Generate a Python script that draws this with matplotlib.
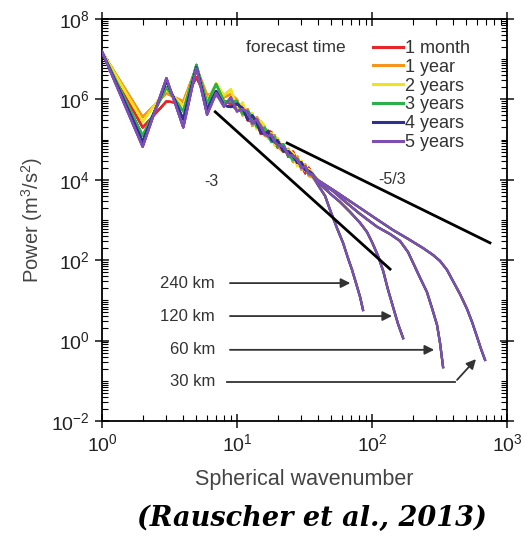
import numpy as np
import matplotlib
matplotlib.use("Agg")
import matplotlib.pyplot as plt
from matplotlib.lines import Line2D
from matplotlib.ticker import LogLocator, FixedLocator, NullFormatter

plt.rcParams['font.family'] = ['Liberation Sans', 'DejaVu Sans']
plt.rcParams['mathtext.fontset'] = 'custom'
plt.rcParams['mathtext.rm'] = 'Liberation Sans'
plt.rcParams['mathtext.it'] = 'Liberation Sans:italic'

# forecast times and colours
labels = ['1 month', '1 year', '2 years', '3 years', '4 years', '5 years']
colors = ['#e8262a', '#f7941d', '#f2e21c', '#2bb04a', '#2e3192', '#7d4fb5']

# low wavenumbers, log10 power per forecast time
k_low = [1, 2, 3, 4, 5, 6, 7, 8]
low_red = [7.18, 5.30, 5.95, 5.90, 6.55, 6.00, 6.10, 5.95]
low_orange = [7.18, 5.56, 6.15, 5.95, 6.80, 6.10, 6.20, 6.05]
low_yellow = [7.18, 5.45, 6.25, 5.85, 6.75, 5.95, 6.40, 6.10]
low_green = [7.18, 5.10, 6.30, 5.70, 6.86, 5.90, 6.38, 5.95]
low_blue = [7.18, 4.95, 6.45, 5.50, 6.80, 5.75, 6.20, 5.85]
low_purple = [7.18, 4.82, 6.53, 5.30, 6.78, 5.62, 6.15, 5.82]

# noisy middle range, log10 power per forecast time
k_mid = [9, 10, 11, 12, 13, 14, 15, 16, 17, 18, 19, 20, 22, 24, 26, 28, 30, 32, 34, 36]
mid_red = [5.89, 5.73, 5.82, 5.48, 5.44, 5.46, 5.14, 5.18, 5.22, 5.18, 4.91, 4.80, 4.87, 4.57, 4.70, 4.40, 4.41, 4.16, 4.30, 4.13]
mid_orange = [6.13, 5.99, 5.60, 5.76, 5.34, 5.56, 5.40, 5.10, 5.06, 4.98, 5.11, 4.84, 4.69, 4.77, 4.44, 4.58, 4.25, 4.38, 4.10, 4.07]
mid_yellow = [6.25, 5.75, 5.92, 5.54, 5.66, 5.26, 5.46, 5.34, 5.02, 5.16, 4.85, 5.04, 4.73, 4.73, 4.66, 4.34, 4.47, 4.22, 4.26, 4.19]
mid_green = [5.95, 5.95, 5.64, 5.72, 5.54, 5.32, 5.24, 5.30, 5.10, 4.94, 5.07, 4.82, 4.89, 4.61, 4.50, 4.52, 4.31, 4.34, 4.14, 4.11]
mid_blue = [5.81, 5.89, 5.78, 5.50, 5.60, 5.42, 5.18, 5.14, 5.20, 5.00, 4.93, 4.98, 4.71, 4.71, 4.60, 4.42, 4.43, 4.24, 4.22, 4.15]
mid_purple = [6.05, 5.70, 5.76, 5.68, 5.40, 5.50, 5.33, 5.14, 5.08, 5.12, 4.94, 4.86, 4.83, 4.62, 4.60, 4.50, 4.30, 4.33, 4.16, 4.13]

# tails for each model resolution (log10 power)
k_240 = [39.8, 44.9, 48.9, 55.0, 61, 66.4, 71.1, 76.1, 81.5, 85.8]
p_240 = [3.87, 3.60, 3.25, 2.80, 2.43, 2.05, 1.76, 1.43, 1.09, 0.76]
k_120 = [39.8, 43.4, 50, 57.9, 68.7, 81.5, 91.8, 100, 111, 121, 131, 143, 156, 170]
p_120 = [3.95, 3.82, 3.63, 3.45, 3.20, 2.93, 2.70, 2.45, 2.10, 1.73, 1.28, 0.84, 0.41, 0.06]
k_60 = [39.8, 51.4, 61, 81.5, 109, 136, 161, 185, 205, 227, 255, 278, 303, 319, 336]
p_60 = [3.97, 3.72, 3.50, 3.15, 2.83, 2.65, 2.48, 2.20, 1.88, 1.56, 1.21, 0.81, 0.39, -0.06, -0.66]
k_30 = [39.8, 51.4, 63.1, 81.5, 105, 143, 185, 239, 283, 319, 359, 398, 448, 505, 551, 600, 642, 687]
p_30 = [3.99, 3.75, 3.55, 3.30, 3.05, 2.75, 2.53, 2.30, 2.13, 1.98, 1.76, 1.48, 1.16, 0.79, 0.46, 0.09, -0.21, -0.48]

# reference slopes
slope3_k = [6.9, 136]
slope3_p = [4.9e5, 60]
slope53_k = [23.5, 748]
slope53_p = [8.2e4, 270]

lows = [low_red, low_orange, low_yellow, low_green, low_blue, low_purple]
mids = [mid_red, mid_orange, mid_yellow, mid_green, mid_blue, mid_purple]
tails = [(k_240, p_240), (k_120, p_120), (k_60, p_60), (k_30, p_30)]

fig = plt.figure(figsize=(5.24, 5.38), dpi=100)
ax = fig.add_axes([0.1947, 0.2175, 0.7729, 0.7472])

for i in range(6):
    for tk, tp in tails:
        k = np.array(k_low + k_mid + tk, dtype=float)
        p = 10 ** np.array(lows[i] + mids[i] + tp)
        ax.plot(k, p, color=colors[i], lw=1.6, zorder=2 + i)

ax.plot(slope3_k, slope3_p, color='black', lw=2, zorder=10)
ax.plot(slope53_k, slope53_p, color='black', lw=2, zorder=10)

ax.set_xscale('log')
ax.set_yscale('log')
ax.set_xlim(1, 1000)
ax.set_ylim(1e-2, 1e8)

ax.yaxis.set_major_locator(FixedLocator([10.0 ** e for e in range(-2, 9, 2)]))
ax.yaxis.set_minor_locator(LogLocator(base=10, subs=np.arange(1, 10), numticks=30))
ax.yaxis.set_minor_formatter(NullFormatter())
ax.xaxis.set_minor_locator(LogLocator(base=10, subs=np.arange(2, 10), numticks=30))
ax.xaxis.set_minor_formatter(NullFormatter())
ax.tick_params(which='major', direction='inout', length=10, width=1.2,
               top=True, right=True, labelsize=14, colors='#222222', pad=4)
ax.tick_params(which='minor', direction='in', length=4, width=0.8, top=True, right=True)
for s in ax.spines.values():
    s.set_linewidth(1.3)

ax.set_xlabel('Spherical wavenumber', fontsize=15.5, color='#444444', labelpad=10)
ax.set_ylabel('Power (m$^3$/s$^2$)', fontsize=14.5, color='#444444', labelpad=4)

ax.text(0.27, 0.595, '-3', transform=ax.transAxes, fontsize=11.5, color='#333333', ha='center', va='center')
ax.text(0.715, 0.6, '-5/3', transform=ax.transAxes, fontsize=11.5, color='#333333', ha='center', va='center')
ax.text(0.479, 0.930, 'forecast time', transform=ax.transAxes, fontsize=12.5, color='#333333', ha='center', va='center')

handles = [Line2D([], [], color=c, lw=2.2) for c in colors]
ax.legend(handles, labels, loc='upper left', bbox_to_anchor=(0.669, 0.948), frameon=False,
          fontsize=13, handlelength=1.65, handletextpad=0.15, labelspacing=0.1,
          borderpad=0, borderaxespad=0, labelcolor='#333333')

# resolution labels and arrows
arrow_kw = dict(arrowstyle='-|>', color='#333333', lw=1.3, mutation_scale=14)
res_text = ['240 km', '120 km', '60 km']
res_y = [0.343, 0.261, 0.177]
res_end = [0.620, 0.723, 0.827]
for t, yy, xe in zip(res_text, res_y, res_end):
    ax.text(0.279, yy, t, transform=ax.transAxes, fontsize=12, color='#333333', ha='right', va='center')
    ax.annotate('', xy=(xe, yy), xytext=(0.309, yy), xycoords='axes fraction',
                textcoords='axes fraction', arrowprops=arrow_kw)
ax.text(0.279, 0.097, '30 km', transform=ax.transAxes, fontsize=12, color='#333333', ha='right', va='center')
ax.plot([0.309, 0.872], [0.097, 0.097], transform=ax.transAxes, color='#333333', lw=1.3)
ax.annotate('', xy=(0.928, 0.159), xytext=(0.872, 0.097), xycoords='axes fraction',
            textcoords='axes fraction', arrowprops=arrow_kw)

fig.text(0.596, 0.037, '(Rauscher et al., 2013)', fontsize=19.5, family='DejaVu Serif',
         style='italic', weight='bold', ha='center', va='center')

fig.savefig('out.png', dpi=100)
